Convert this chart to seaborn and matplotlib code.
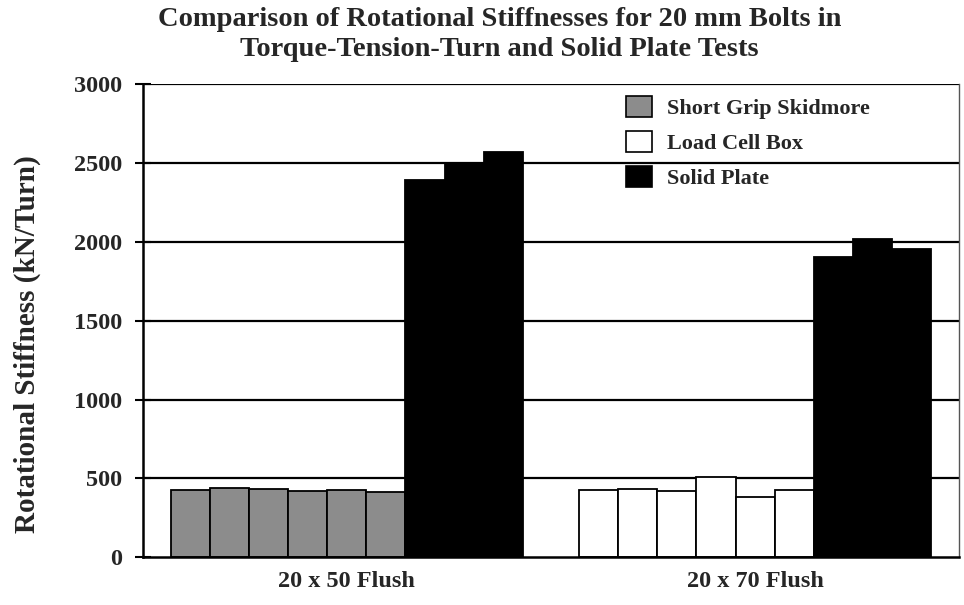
import pandas as pd
import matplotlib
matplotlib.use('Agg')
import matplotlib.pyplot as plt
from matplotlib.patches import Patch
import seaborn as sns

groups = ['20 x 50 Flush', '20 x 70 Flush']
skidmore_50 = [429, 437, 434, 418, 425, 412]
loadcell_70 = [425, 434, 419, 507, 381, 429]
solid_50 = [2394, 2493, 2571]
solid_70 = [1903, 2015, 1956]
series_names = ['Short Grip Skidmore', 'Load Cell Box', 'Solid Plate']
yticks = [0, 500, 1000, 1500, 2000, 2500, 3000]

colors = {'Short Grip Skidmore': '#8c8c8c', 'Load Cell Box': 'white', 'Solid Plate': 'black'}

rows = []
for g, first, second in [(groups[0], ('Short Grip Skidmore', skidmore_50), solid_50),
                         (groups[1], ('Load Cell Box', loadcell_70), solid_70)]:
    name, vals = first
    for i, v in enumerate(vals):
        rows.append((g, f's{i}', name, v))
    for i, v in enumerate(second):
        rows.append((g, f's{i + 6}', 'Solid Plate', v))
df = pd.DataFrame(rows, columns=['group', 'slot', 'series', 'value'])
slots = [f's{i}' for i in range(9)]

sns.set_style('white')
plt.rcParams['font.family'] = ['Liberation Serif', 'DejaVu Serif']
plt.rcParams['font.weight'] = 'bold'

fig = plt.figure(figsize=(9.64, 6.05), dpi=100)
ax = fig.add_axes([0.148, 0.079, 0.847, 0.782])

# grid lines behind the bars
for t in yticks[1:]:
    ax.axhline(t, color='black', lw=1.6, zorder=0)

sns.barplot(data=df, x='group', y='value', hue='slot', hue_order=slots, order=groups,
            width=0.862, palette=['black'] * 9, legend=False, ax=ax, zorder=2)

for slot, cont in zip(slots, ax.containers):
    for g, bar in zip(groups, cont):
        s = df[(df.group == g) & (df.slot == slot)]['series'].iloc[0]
        bar.set_facecolor(colors[s])
        bar.set_edgecolor('black')
        bar.set_linewidth(1.3)

ax.set_xlim(-0.5, 1.5)
ax.set_ylim(0, 3000)
ax.set_yticks(yticks)
ax.set_yticklabels([str(t) for t in yticks], fontsize=17.5, fontweight='bold')
ax.set_xticks([0, 1])
ax.set_xticklabels(groups, fontsize=17.5, fontweight='bold')
ax.set_xticks([-0.5, 0.5, 1.5], minor=True)
ax.tick_params(axis='x', which='major', length=0, pad=10)
ax.tick_params(axis='x', which='minor', direction='inout', length=14, width=1.5, color='black')
ax.tick_params(axis='y', direction='inout', length=12, width=1.5, color='black', pad=9, left=True)

ax.set_xlabel('')
ax.set_ylabel('Rotational Stiffness (kN/Turn)', fontsize=21, fontweight='bold')
ax.yaxis.set_label_coords(-0.125, 0.45)

for side in ['left', 'bottom']:
    ax.spines[side].set_color('black')
    ax.spines[side].set_linewidth(1.8)
ax.spines['top'].set_visible(False)
ax.spines['right'].set_color('#555555')
ax.spines['right'].set_linewidth(1.0)

handles = [Patch(facecolor=colors[n], edgecolor='black', linewidth=1.2, label=n) for n in series_names]
ax.legend(handles=handles, loc='upper left', bbox_to_anchor=(0.592, 0.975), frameon=False,
          prop={'size': 16, 'weight': 'bold'}, handlelength=1.15, handleheight=1.05,
          labelspacing=0.55, handletextpad=0.7, borderpad=0, borderaxespad=0)

fig.suptitle('Comparison of Rotational Stiffnesses for 20 mm Bolts in\nTorque-Tension-Turn and Solid Plate Tests',
             fontsize=20.5, fontweight='bold', x=0.518, y=0.988, linespacing=1.25)

fig.savefig('out.png', dpi=100)
